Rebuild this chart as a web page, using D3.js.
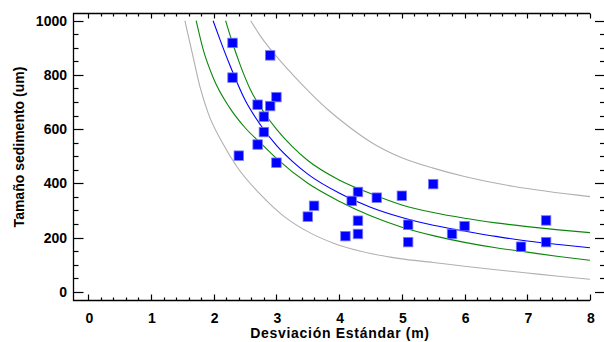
<!DOCTYPE html>
<html>
<head>
<meta charset="utf-8">
<script src="https://cdn.jsdelivr.net/npm/d3@7"></script>
<style>
  body { margin: 0; background: #fff; }
  svg { display: block; }
  text { font-family: "Liberation Sans", Arial, sans-serif; font-weight: bold; fill: #000; }
</style>
</head>
<body>
<svg width="604" height="342"></svg>
<script>
// observed points
var sdX   = [2.3, 2.9, 2.3, 3.0, 2.7, 2.9, 2.8, 2.8, 2.7, 2.4, 3.0, 4.3, 4.2, 4.6, 3.6, 3.5, 4.3, 4.1, 4.3, 5.0, 5.5, 5.1, 5.1, 5.8, 6.0, 6.9, 7.3, 7.3];
var sizeY = [918, 872, 790, 718, 690, 685, 646, 589, 543, 502, 476, 368, 335, 347, 317, 277, 262, 205, 213, 354, 397, 247, 183, 213, 242, 166, 263, 183];

// fitted model
var fitX = [1.99, 2.1, 2.25, 2.5, 2.75, 3.0, 3.25, 3.5, 4.0, 4.5, 5.0, 5.5, 6.0, 6.5, 7.0, 7.5, 8.0];
var fitY = [1000, 930, 840, 707, 614, 540, 482, 434, 364, 312, 274, 245, 224, 204, 187, 174, 162];

// confidence limits
var confHiX = [2.19, 2.29, 2.42, 2.58, 2.83, 3.0, 3.25, 3.5, 4.0, 4.5, 5.0, 5.5, 6.0, 6.5, 7.0, 7.5, 8.0];
var confHiY = [1000, 925, 838, 748, 652, 600, 536, 484, 412, 362, 320, 292, 271, 254, 240, 228, 218];
var confLoX = [1.72, 1.83, 2.0, 2.25, 2.5, 2.75, 3.0, 3.5, 4.0, 4.5, 5.0, 5.5, 6.0, 6.5, 7.0, 7.5, 8.0];
var confLoY = [1000, 895, 785, 680, 605, 548, 492, 400, 334, 280, 238, 207, 182, 162, 146, 130, 116];

// prediction limits
var predHiX = [2.59, 2.74, 3.0, 3.27, 3.59, 3.85, 4.12, 4.54, 4.97, 5.5, 6.0, 6.77, 8.0];
var predHiY = [1000, 945, 868, 798, 722, 666, 615, 547, 497, 456, 425, 389, 351];
var predLoX = [1.54, 1.67, 1.78, 1.91, 2.15, 2.37, 2.74, 3.11, 3.53, 3.9, 4.33, 4.97, 5.5, 6.0, 6.5, 7.0, 7.5, 8.0];
var predLoY = [1000, 867, 757, 660, 545, 461, 360, 280, 218, 180, 150, 122, 108, 94, 81, 69, 57, 46];

var xTicks = [0, 1, 2, 3, 4, 5, 6, 7, 8];
var yTicks = [0, 200, 400, 600, 800, 1000];

var svg = d3.select("svg");

var x = d3.scaleLinear().domain([0, 8]).range([88.3, 590]);
var y = d3.scaleLinear().domain([0, 1000]).range([291.7, 20.7]);

var frameLeft = 73.5, frameRight = 590, frameTop = 13.5, frameBottom = 300.5;

// frame lines (no line on the right side)
svg.append("path")
    .attr("d", "M" + frameRight + "," + frameTop + "H" + frameLeft + "V" + frameBottom + "H" + frameRight)
    .attr("fill", "none")
    .attr("stroke", "#000")
    .attr("stroke-width", 1.3);

// minor ticks
var xMinor = d3.range(0, 8.001, 0.2);
var yMinor = d3.range(0, 1000.1, 50);

function tickLines(g, vals, fn) {
  g.selectAll("line").data(vals).enter().append("line")
      .each(function(d) { var p = fn(d); d3.select(this).attr("x1", p[0]).attr("y1", p[1]).attr("x2", p[2]).attr("y2", p[3]); })
      .attr("stroke", "#000")
      .attr("stroke-width", 1.2);
}

var ticks = svg.append("g");
// bottom
tickLines(ticks.append("g"), xMinor, function(d) { var big = Math.abs(d - Math.round(d)) < 1e-6; var px = Math.round(x(d)) + 0.5; return [px, frameBottom, px, frameBottom - (big ? 6 : 3)]; });
// top
tickLines(ticks.append("g"), xMinor, function(d) { var big = Math.abs(d - Math.round(d)) < 1e-6; var px = Math.round(x(d)) + 0.5; return [px, frameTop, px, frameTop + (big ? 5 : 3)]; });
// left
tickLines(ticks.append("g"), yMinor, function(d) { var big = d % 200 === 0; var py = Math.round(y(d)) + 0.5; return [frameLeft, py, frameLeft + (big ? 10 : 5), py]; });
// right
tickLines(ticks.append("g"), yMinor, function(d) { var big = d % 200 === 0; var py = Math.round(y(d)) + 0.5; return [604, py, 604 - (big ? 9 : 4), py]; });

// tick labels
svg.append("g").selectAll("text").data(xTicks).enter().append("text")
    .attr("x", function(d) { return x(d) + 1; })
    .attr("y", 323)
    .attr("text-anchor", "middle")
    .style("font-size", "14px")
    .text(function(d) { return d; });

svg.append("g").selectAll("text").data(yTicks).enter().append("text")
    .attr("x", 67)
    .attr("y", function(d) { return y(d); })
    .attr("dy", "0.36em")
    .attr("text-anchor", "end")
    .style("font-size", "14px")
    .text(function(d) { return d; });

// axis titles
svg.append("text")
    .attr("x", 340)
    .attr("y", 338)
    .attr("text-anchor", "middle")
    .style("font-size", "14px")
    .style("letter-spacing", "0.7px")
    .text("Desviación Estándar (m)");

svg.append("text")
    .attr("transform", "translate(24,147) rotate(-90)")
    .attr("text-anchor", "middle")
    .style("font-size", "14px")
    .text("Tamaño sedimento (um)");

// curves
var line = d3.line()
    .x(function(d) { return x(d[0]); })
    .y(function(d) { return y(d[1]); })
    .curve(d3.curveMonotoneX);

function drawCurve(xs, ys, color) {
  svg.append("path")
      .datum(d3.zip(xs, ys))
      .attr("d", line)
      .attr("fill", "none")
      .attr("stroke", color)
      .attr("stroke-width", 1.1);
}

drawCurve(predLoX, predLoY, "#b0b0b0");
drawCurve(predHiX, predHiY, "#b0b0b0");
drawCurve(confLoX, confLoY, "#0a870a");
drawCurve(confHiX, confHiY, "#0a870a");
drawCurve(fitX, fitY, "#0000ff");

// points
svg.append("g").selectAll("rect").data(d3.zip(sdX, sizeY)).enter().append("rect")
    .attr("x", function(d) { return x(d[0]) - 4.75; })
    .attr("y", function(d) { return y(d[1]) - 4.75; })
    .attr("width", 9.5)
    .attr("height", 9.5)
    .attr("fill", "#0000ff")
    .attr("stroke", "#7a7aff")
    .attr("stroke-width", 0.8);
</script>
</body>
</html>
